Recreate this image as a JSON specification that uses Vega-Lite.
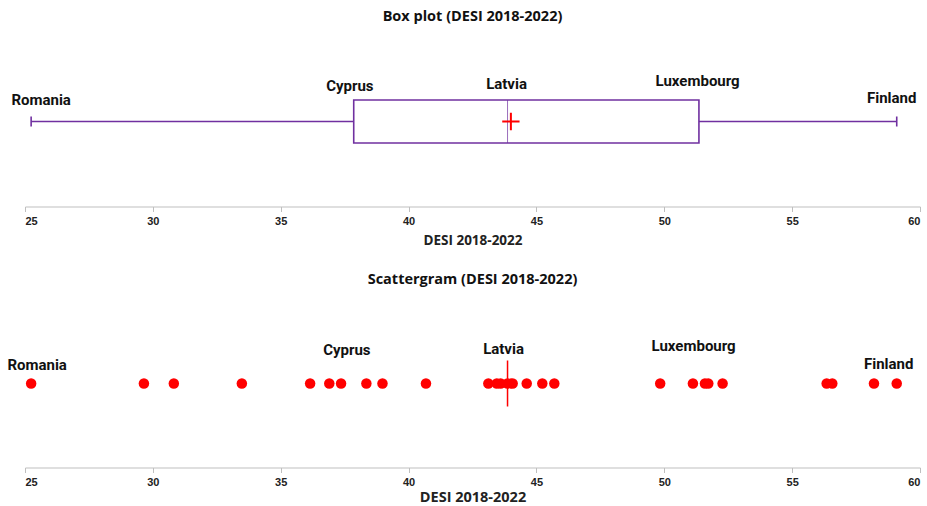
{
  "$schema": "https://vega.github.io/schema/vega-lite/v6.json",
  "padding": {"left": 7, "right": 0, "top": 8.5, "bottom": 0},
  "spacing": 25,
  "background": "white",
  "config": {
    "view": {"stroke": null},
    "title": {"font": "Open Sans", "fontSize": 14.5, "fontWeight": "bold", "color": "#111", "offset": 12.5},
    "axisX": {
      "grid": false,
      "domainColor": "#bfbfbf",
      "tickColor": "#bfbfbf",
      "tickSize": 5,
      "labelFont": "Liberation Sans",
      "labelFontWeight": "bold",
      "labelFontSize": 11,
      "labelColor": "#222",
      "labelPadding": 4,
      "titleFont": "Open Sans",
      "titleFontWeight": "bold",
      "titleColor": "#222"
    },
    "text": {"font": "Roboto", "fontWeight": "bold", "fontSize": 15, "color": "#111", "baseline": "middle", "align": "center"}
  },
  "datasets": {
    "desi": [
      {"value": 25.24, "country": "Romania"},
      {"value": 29.65}, {"value": 30.82}, {"value": 33.48}, {"value": 36.15},
      {"value": 36.9}, {"value": 37.36}, {"value": 38.35}, {"value": 38.98},
      {"value": 40.68}, {"value": 43.12}, {"value": 43.45}, {"value": 43.6},
      {"value": 43.87, "country": "Latvia"}, {"value": 44.07}, {"value": 44.62},
      {"value": 45.23}, {"value": 45.7}, {"value": 49.84}, {"value": 51.12},
      {"value": 51.59}, {"value": 51.72}, {"value": 52.28}, {"value": 56.35},
      {"value": 56.57}, {"value": 58.2}, {"value": 59.09, "country": "Finland"}
    ],
    "labels": [
      {"country": "Romania", "value": 25.24},
      {"country": "Cyprus", "value": 37.86},
      {"country": "Latvia", "value": 43.87},
      {"country": "Luxembourg", "value": 51.42},
      {"country": "Finland", "value": 59.09}
    ]
  },
  "vconcat": [
    {
      "width": 895,
      "height": 170,
      "title": "Box plot (DESI 2018-2022)",
      "layer": [
        {
          "data": {"name": "desi"},
          "mark": {
            "type": "boxplot",
            "extent": "min-max",
            "size": 43,
            "color": "#7030A0",
            "box": {"fill": "white", "stroke": "#7030A0", "strokeWidth": 1.6},
            "median": {"color": "#7030A0", "strokeWidth": 1.6},
            "rule": {"color": "#7030A0", "strokeWidth": 1.6},
            "ticks": {"color": "#7030A0", "size": 10, "thickness": 1.6}
          },
          "encoding": {
            "x": {"field": "value", "type": "quantitative", "scale": {"domain": [25, 60], "nice": false, "zero": false},
                  "axis": {"title": "DESI 2018-2022", "values": [25, 30, 35, 40, 45, 50, 55, 60], "titleFontSize": 13.5, "titlePadding": 6.5}}
          }
        },
        {
          "data": {"name": "desi"},
          "mark": {"type": "point", "shape": "M-1,0H1M0,-1V1", "filled": false, "stroke": "#ff0000", "strokeWidth": 2, "size": 300, "opacity": 1},
          "encoding": {"x": {"aggregate": "mean", "field": "value", "type": "quantitative"}}
        },
        {"data": {"name": "labels"}, "transform": [{"filter": "datum.country === 'Romania'"}], "mark": {"type": "text", "dx": 10, "dy": -22}, "encoding": {"x": {"field": "value", "type": "quantitative"}, "text": {"field": "country"}}},
        {"data": {"name": "labels"}, "transform": [{"filter": "datum.country === 'Cyprus'"}], "mark": {"type": "text", "dx": -4, "dy": -36}, "encoding": {"x": {"field": "value", "type": "quantitative"}, "text": {"field": "country"}}},
        {"data": {"name": "labels"}, "transform": [{"filter": "datum.country === 'Latvia'"}], "mark": {"type": "text", "dx": -1, "dy": -38}, "encoding": {"x": {"field": "value", "type": "quantitative"}, "text": {"field": "country"}}},
        {"data": {"name": "labels"}, "transform": [{"filter": "datum.country === 'Luxembourg'"}], "mark": {"type": "text", "dx": -3, "dy": -41}, "encoding": {"x": {"field": "value", "type": "quantitative"}, "text": {"field": "country"}}},
        {"data": {"name": "labels"}, "transform": [{"filter": "datum.country === 'Finland'"}], "mark": {"type": "text", "dx": -5, "dy": -24}, "encoding": {"x": {"field": "value", "type": "quantitative"}, "text": {"field": "country"}}}
      ]
    },
    {
      "width": 895,
      "height": 168,
      "title": {"text": "Scattergram (DESI 2018-2022)", "offset": 12.5},
      "layer": [
        {
          "data": {"name": "desi"},
          "mark": {"type": "circle", "color": "#ff0000", "size": 110, "opacity": 1},
          "encoding": {
            "x": {"field": "value", "type": "quantitative", "scale": {"domain": [25, 60], "nice": false, "zero": false},
                  "axis": {"title": "DESI 2018-2022", "values": [25, 30, 35, 40, 45, 50, 55, 60], "titleFontSize": 14.5, "titlePadding": 3}}
          }
        },
        {
          "data": {"name": "desi"},
          "mark": {"type": "tick", "orient": "vertical", "color": "#ff0000", "size": 46, "thickness": 1.5},
          "encoding": {"x": {"aggregate": "median", "field": "value", "type": "quantitative"}}
        },
        {
          "data": {"name": "desi"},
          "mark": {"type": "point", "shape": "M-1,0H1M0,-1V1", "filled": false, "stroke": "#ff0000", "strokeWidth": 2, "size": 100, "opacity": 1},
          "encoding": {"x": {"aggregate": "mean", "field": "value", "type": "quantitative"}}
        },
        {"data": {"name": "labels"}, "transform": [{"filter": "datum.country === 'Romania'"}], "mark": {"type": "text", "dx": 6, "dy": -19}, "encoding": {"x": {"field": "value", "type": "quantitative"}, "text": {"field": "country"}}},
        {"data": {"name": "labels"}, "transform": [{"filter": "datum.country === 'Cyprus'"}], "mark": {"type": "text", "dx": -7, "dy": -34}, "encoding": {"x": {"field": "value", "type": "quantitative"}, "text": {"field": "country"}}},
        {"data": {"name": "labels"}, "transform": [{"filter": "datum.country === 'Latvia'"}], "mark": {"type": "text", "dx": -4, "dy": -35}, "encoding": {"x": {"field": "value", "type": "quantitative"}, "text": {"field": "country"}}},
        {"data": {"name": "labels"}, "transform": [{"filter": "datum.country === 'Luxembourg'"}], "mark": {"type": "text", "dx": -7, "dy": -38}, "encoding": {"x": {"field": "value", "type": "quantitative"}, "text": {"field": "country"}}},
        {"data": {"name": "labels"}, "transform": [{"filter": "datum.country === 'Finland'"}], "mark": {"type": "text", "dx": -8, "dy": -20}, "encoding": {"x": {"field": "value", "type": "quantitative"}, "text": {"field": "country"}}}
      ]
    }
  ]
}
